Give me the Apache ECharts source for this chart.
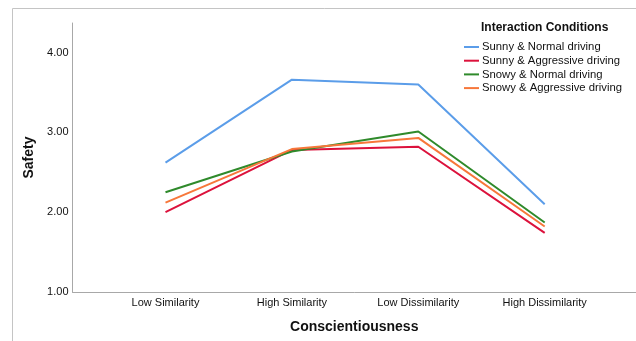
<!DOCTYPE html>
<html><head><meta charset="utf-8">
<script src="https://cdn.jsdelivr.net/npm/echarts@6/dist/echarts.min.js"></script>
<style>html,body{margin:0;padding:0;background:#fff}#c{width:636px;height:341px}</style>
</head><body><div id="c"></div>
<script>
const categories = ['Low Similarity', 'High Similarity', 'Low Dissimilarity', 'High Dissimilarity'];
const seriesNames = ['Sunny & Normal driving', 'Sunny & Aggressive driving', 'Snowy & Normal driving', 'Snowy & Aggressive driving'];
const sunnyNormal = [2.62, 3.66, 3.60, 2.10];
const sunnyAggressive = [2.00, 2.78, 2.82, 1.74];
const snowyNormal = [2.25, 2.76, 3.01, 1.87];
const snowyAggressive = [2.12, 2.79, 2.93, 1.82];
const yTicks = [1, 2, 3, 4];
const yMin = 1, yMax = 4.37;

const colors = ['#5b9de9', '#dc123c', '#2f8a2b', '#f7773a'];
const values = [sunnyNormal, sunnyAggressive, snowyNormal, snowyAggressive];
const font = 'Liberation Sans, Arial, sans-serif';

const chart = echarts.init(document.getElementById('c'));
chart.setOption({
  animation: false,
  textStyle: { fontFamily: font },
  graphic: [{ type: 'rect', shape: { x: 12.5, y: 8.5, width: 700, height: 400 },
    style: { fill: 'none', stroke: '#c4c4c4', lineWidth: 1 }, silent: true, z: -10 }],
  title: { text: 'Interaction Conditions', left: 476, top: 17,
    textStyle: { fontSize: 12, fontWeight: 'bold', color: '#111', fontFamily: font } },
  legend: {
    orient: 'vertical', left: 459, top: 35.5, itemWidth: 15, itemHeight: 2, itemGap: 0.7,
    icon: 'rect', data: seriesNames,
    textStyle: { fontSize: 11.3, color: '#111', fontFamily: font, lineHeight: 13, padding: [0, 0, 0, -2] }
  },
  grid: [
    { left: 72.5, right: 0, top: 23, bottom: 49 },
    { left: 102.3, width: 505.6, top: 23, bottom: 49 }
  ],
  xAxis: [
    { gridIndex: 0, type: 'value', min: 0, max: 1, axisLabel: { show: false }, axisTick: { show: false },
      splitLine: { show: false }, axisLine: { lineStyle: { color: '#a8a8a8', width: 1 } },
      name: 'Conscientiousness', nameLocation: 'middle', nameGap: 28,
      nameTextStyle: { fontSize: 14, fontWeight: 'bold', color: '#111', fontFamily: font } },
    { gridIndex: 1, type: 'category', data: categories, boundaryGap: true,
      axisLine: { show: false }, axisTick: { show: false }, splitLine: { show: false },
      axisLabel: { fontSize: 11, color: '#111', margin: 5, fontFamily: font, interval: 0 } }
  ],
  yAxis: [
    { gridIndex: 0, type: 'value', min: yMin, max: yMax, interval: 1,
      axisLine: { show: true, lineStyle: { color: '#a8a8a8', width: 1 } }, axisTick: { show: false },
      splitLine: { show: false },
      axisLabel: { fontSize: 11, color: '#111', margin: 4, fontFamily: font,
        formatter: v => yTicks.includes(Math.round(v * 100) / 100) ? v.toFixed(2) : '' },
      name: 'Safety', nameLocation: 'middle', nameGap: 33,
      nameTextStyle: { fontSize: 14, fontWeight: 'bold', color: '#111', fontFamily: font } },
    { gridIndex: 1, type: 'value', min: yMin, max: yMax, show: false, splitLine: { show: false } }
  ],
  series: values.map((d, i) => ({
    name: seriesNames[i], type: 'line', xAxisIndex: 1, yAxisIndex: 1, data: d,
    symbol: 'none', lineStyle: { width: 2, color: colors[i] }, itemStyle: { color: colors[i] }
  }))
});
</script></body></html>
